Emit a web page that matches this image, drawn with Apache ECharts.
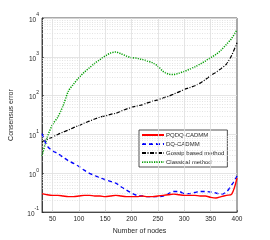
<!DOCTYPE html>
<html><head><meta charset="utf-8">
<script src="https://cdn.jsdelivr.net/npm/echarts@6/dist/echarts.min.js"></script>
<style>html,body{margin:0;padding:0;background:#fff}#c{width:270px;height:240px}</style>
</head><body><div id="c"></div>
<script>
const nodes = [30,40,50,60,70,80,90,100,110,120,130,140,150,160,170,180,190,200,210,220,230,240,250,260,270,280,290,300,310,320,330,340,350,360,370,380,390,400];
const pqdq = [0.30,0.28,0.27,0.27,0.26,0.25,0.25,0.26,0.27,0.27,0.26,0.26,0.25,0.26,0.27,0.26,0.25,0.25,0.25,0.26,0.25,0.25,0.26,0.27,0.28,0.29,0.28,0.27,0.27,0.27,0.26,0.26,0.24,0.23,0.25,0.27,0.29,0.75];
const dq = [10.5,5.0,3.8,3.2,2.6,2.1,1.8,1.5,1.2,1.0,0.88,0.76,0.68,0.62,0.56,0.45,0.37,0.31,0.27,0.26,0.25,0.25,0.25,0.26,0.30,0.34,0.34,0.30,0.30,0.32,0.34,0.34,0.33,0.31,0.29,0.33,0.50,0.85];
const gossip = [6.5,7.5,8.5,10,11.5,13,15,17,19.5,22,25,28,30,33,35,40,45,50,54,58,65,72,78,88,96,110,125,145,160,180,210,260,330,400,500,650,1100,2300];
const classical = [2.8,8.5,18,28,55,130,200,290,400,520,680,850,1050,1250,1330,1200,1050,950,920,850,780,700,570,420,360,350,380,420,480,550,650,780,950,1150,1500,2100,3000,5000];
const seriesNames = ['PQDQ-CADMM','DQ-CADMM','Gossip based method','Classical method'];
const xTicks = [50,100,150,200,250,300,350,400];
const yDecades = [0.1,1,10,100,1000,10000];

const minorY = [];
for (let i = 0; i < yDecades.length - 1; i++) for (let k = 2; k <= 9; k++) minorY.push(yDecades[i] * k);
const pairs = a => nodes.map((x, i) => [x, a[i]]);
const font = '"Liberation Sans", Arial, sans-serif';
const txt = '#262626';

const chart = echarts.init(document.getElementById('c'), null, {renderer: 'canvas'});
chart.setOption({
  animation: false,
  backgroundColor: '#fff',
  textStyle: {fontFamily: font},
  grid: {left: 42, right: 33, top: 18, bottom: 26, show: true, borderColor: txt, borderWidth: 0.8, backgroundColor: '#fff'},
  legend: {
    data: seriesNames, orient: 'vertical', left: 139, top: 130,
    itemWidth: 22, itemHeight: 6, itemGap: 3,
    backgroundColor: '#fff', borderColor: txt, borderWidth: 0.8, borderRadius: 0,
    padding: [2, 3, 2, 2],
    itemStyle: {opacity: 0},
    textStyle: {fontSize: 6, color: txt, fontFamily: font, padding: [0, 0, 0, -3]}
  },
  xAxis: {
    type: 'value', min: 30, max: 400,
    name: 'Number of nodes', nameLocation: 'middle', nameGap: 14,
    nameTextStyle: {fontSize: 7, color: txt, fontFamily: font},
    axisLine: {show: true, lineStyle: {color: txt, width: 0.8}},
    axisTick: {show: true, inside: true, length: 2, customValues: xTicks, lineStyle: {color: txt, width: 0.6}},
    axisLabel: {customValues: xTicks, fontSize: 6.5, color: txt, margin: 4, fontFamily: font},
    splitLine: {show: false}
  },
  yAxis: {
    type: 'log', logBase: 10, min: 0.1, max: 10000,
    name: 'Consensus error', nameLocation: 'middle', nameGap: 27,
    nameTextStyle: {fontSize: 7, color: txt, fontFamily: font},
    axisLine: {show: true, lineStyle: {color: txt, width: 0.8}},
    axisTick: {show: true, inside: true, length: 2, lineStyle: {color: txt, width: 0.6}},
    axisLabel: {
      margin: 3, color: txt, fontFamily: font,
      formatter: v => '{b|10}{s|' + Math.round(Math.log10(v)) + '}',
      rich: {
        b: {fontSize: 6.5, lineHeight: 11, verticalAlign: 'bottom', color: txt, fontFamily: font},
        s: {fontSize: 5, lineHeight: 6, verticalAlign: 'top', color: txt, fontFamily: font}
      }
    },
    splitLine: {show: true, lineStyle: {color: '#dedede', width: 0.8}}
  },
  series: [
    {
      name: 'grid', type: 'line', data: [], silent: true, legendHoverLink: false,
      markLine: {
        silent: true, symbol: 'none', label: {show: false}, animation: false,
        data: minorY.map(v => ({yAxis: v, lineStyle: {color: '#d2d2d2', type: [1, 1.5], width: 0.6}}))
          .concat(xTicks.filter(v => v < 400).map(v => ({xAxis: v, lineStyle: {color: '#dedede', type: 'solid', width: 0.8}})))
      },
      z: 1
    },
    {name: seriesNames[0], type: 'line', data: pairs(pqdq), symbol: 'none', smooth: 0.3,
     lineStyle: {color: '#ff0000', width: 1.4}, itemStyle: {color: '#ff0000'}, z: 5},
    {name: seriesNames[1], type: 'line', data: pairs(dq), symbol: 'none', smooth: 0.3,
     lineStyle: {color: '#0000ff', width: 1.4, type: [4, 3]}, itemStyle: {color: '#0000ff'}, z: 4},
    {name: seriesNames[2], type: 'line', data: pairs(gossip), symbol: 'none', smooth: 0.3,
     lineStyle: {color: '#000000', width: 1.2, type: [4, 1.5, 1, 1.5]}, itemStyle: {color: '#000000'}, z: 3},
    {name: seriesNames[3], type: 'line', data: pairs(classical), symbol: 'none', smooth: 0.3,
     lineStyle: {color: '#00a000', width: 1.5, type: [1.2, 1.2]}, itemStyle: {color: '#00a000'}, z: 2}
  ]
});
</script></body></html>
